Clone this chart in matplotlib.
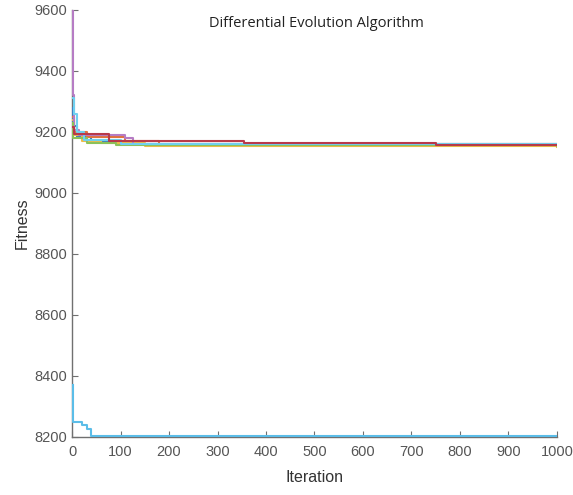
import matplotlib.pyplot as plt

# breakpoints (iteration, best fitness), drawn as steps
iters_blue = [1, 3, 10, 40, 110, 480, 1000]
fit_blue = [9280, 9220, 9185, 9170, 9160, 9158, 9158]

iters_orange = [1, 5, 30, 110, 180, 1000]
fit_orange = [9250, 9200, 9185, 9170, 9160, 9158]

iters_yellow = [1, 4, 20, 60, 150, 1000]
fit_yellow = [9240, 9190, 9170, 9165, 9153, 9152]

iters_purple = [1, 2, 5, 15, 110, 125, 1000]
fit_purple = [9600, 9320, 9205, 9190, 9180, 9160, 9162]

iters_green = [1, 3, 30, 90, 1000]
fit_green = [9230, 9180, 9165, 9157, 9155]

iters_cyan = [1, 4, 10, 25, 100, 1000]
fit_cyan = [9310, 9260, 9200, 9175, 9160, 9157]

iters_red = [1, 5, 76, 355, 750, 1000]
fit_red = [9215, 9195, 9172, 9163, 9157, 9157]

iters_low = [1, 3, 20, 30, 40, 1000]
fit_low = [8370, 8250, 8240, 8225, 8203, 8203]

runs = [
    (iters_blue, fit_blue, "#3a7fc0"),
    (iters_orange, fit_orange, "#e0733f"),
    (iters_yellow, fit_yellow, "#eebc4a"),
    (iters_purple, fit_purple, "#b67cc4"),
    (iters_green, fit_green, "#8cc25a"),
    (iters_cyan, fit_cyan, "#6fd0f0"),
    (iters_red, fit_red, "#b83a4a"),
    (iters_low, fit_low, "#5bbde8"),
]

fig = plt.figure(figsize=(5.73, 4.95), dpi=100)
ax = fig.add_axes([0.1257, 0.1172, 0.8463, 0.8626])

for x, y, c in runs:
    ax.plot(x, y, drawstyle="steps-post", color=c, linewidth=1.5, zorder=3)

ax.set_xlim(0, 1000)
ax.set_ylim(8200, 9600)
ax.set_xticks(range(0, 1001, 100))
ax.set_yticks(range(8200, 9601, 200))

for side in ["top", "right"]:
    ax.spines[side].set_visible(False)
for side in ["left", "bottom"]:
    ax.spines[side].set_color("#707070")
    ax.spines[side].set_linewidth(1.0)

ax.tick_params(direction="in", length=4, colors="#707070", labelsize=10.5,
               labelcolor="#555555")
ax.tick_params(axis="x", pad=6)
for lab in ax.get_xticklabels() + ax.get_yticklabels():
    lab.set_family("Liberation Sans")

ax.set_xlabel("Iteration", fontsize=11.5, color="#333333", family="Liberation Sans",
              labelpad=8)
ax.set_ylabel("Fitness", fontsize=11.5, color="#333333", family="Liberation Sans",
              labelpad=3)

ax.text(0.505, 0.985, "Differential Evolution Algorithm", transform=ax.transAxes,
        ha="center", va="top", fontsize=10.5, family="Open Sans", color="#222222")

fig.savefig("out.png", dpi=100)
